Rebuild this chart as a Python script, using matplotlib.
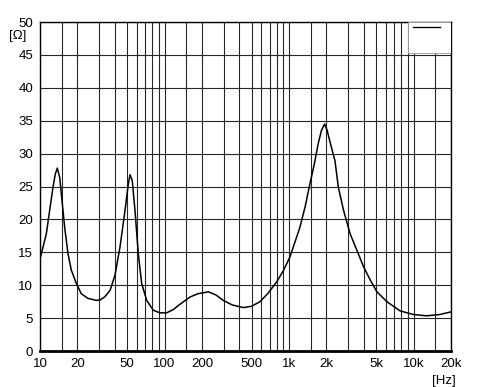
import matplotlib.pyplot as plt
import matplotlib.patches as patches
import numpy as np

plt.rcParams['font.family'] = ['Liberation Sans', 'DejaVu Sans']

# impedance curve
freq = [10, 10.57, 11.24, 11.96, 12.72, 13.27, 13.77, 14.39, 15.02, 15.78, 16.78,
        17.84, 19.56, 21.45, 24.3, 28.3, 30.3, 33.0, 36.5, 40.0, 43.9, 48.2, 51.2,
        52.9, 55.1, 57.9, 61.6, 65.5, 71.9, 81.2, 91.9, 104, 117.6, 133, 160, 185,
        225, 260, 296, 350, 430, 500, 585, 680, 796, 900, 1018, 1100, 1223, 1350,
        1471, 1600, 1715, 1820, 1930, 2020, 2120, 2340, 2490, 2740, 3100, 3510,
        3970, 4490, 5080, 6110, 7790, 9960, 12700, 16300, 20000]
imp = [14.0, 15.8, 17.8, 21.4, 24.9, 26.9, 27.8, 26.4, 22.9, 18.8, 14.8,
       12.3, 10.3, 8.7, 8.0, 7.7, 7.75, 8.2, 9.2, 11.5, 15.8, 21.4, 25.4,
       26.8, 25.9, 21.4, 14.8, 10.3, 7.7, 6.2, 5.8, 5.8, 6.3, 7.1, 8.2, 8.7,
       9.0, 8.5, 7.7, 7.0, 6.6, 6.8, 7.5, 8.8, 10.5, 12.2, 14.3, 16.2, 18.8, 22.0,
       25.4, 28.5, 31.5, 33.5, 34.5, 33.6, 32.0, 28.9, 24.9, 21.4, 17.8, 15.3,
       12.8, 10.8, 9.0, 7.5, 6.1, 5.55, 5.35, 5.55, 5.95]

xticks = [10, 20, 50, 100, 200, 500, 1000, 2000, 5000, 10000, 20000]
xlabels = ['10', '20', '50', '100', '200', '500', '1k', '2k', '5k', '10k', '20k']
yticks = [0, 5, 10, 15, 20, 25, 30, 35, 40, 45, 50]

fig = plt.figure(figsize=(5, 3.87), dpi=100)
ax = fig.add_axes([0.08, 0.093, 0.822, 0.850])

# grid: 1,1.5,2..9 per decade
grid_f = []
for dec in [10, 100, 1000, 10000]:
    for m in [1, 1.5, 2, 3, 4, 5, 6, 7, 8, 9]:
        if dec * m <= 20000:
            grid_f.append(dec * m)
for g in grid_f:
    ax.axvline(g, color='0.15', lw=0.8, zorder=1)
for y in yticks:
    ax.axhline(y, color='0.15', lw=0.8, zorder=1)

ax.plot(freq, imp, color='black', lw=1.1, zorder=3)

ax.set_xscale('log')
ax.set_xlim(10, 20000)
ax.set_ylim(0, 50)
ax.set_xticks(xticks)
ax.set_xticklabels(xlabels)
ax.minorticks_off()
ax.set_yticks(yticks)
ax.tick_params(length=0, labelsize=9.5)
ax.tick_params(axis='x', pad=5)
ax.tick_params(axis='y', pad=5)
for s in ax.spines.values():
    s.set_color('black')
    s.set_linewidth(1.0)
ax.spines['bottom'].set_linewidth(2.0)

# legend placeholder box top right
ax.add_patch(patches.Rectangle((0.895, 0.906), 0.105, 0.094, transform=ax.transAxes,
                               facecolor='white', edgecolor='0.6', lw=0.6, zorder=4))
ax.plot([0.908, 0.973], [0.985, 0.985], transform=ax.transAxes, color='black', lw=1.0, zorder=5)

fig.text(0.018, 0.90, '[Ω]', fontsize=9.5)
fig.text(0.864, 0.008, '[Hz]', fontsize=9.5)

fig.savefig('out.png', dpi=100)
